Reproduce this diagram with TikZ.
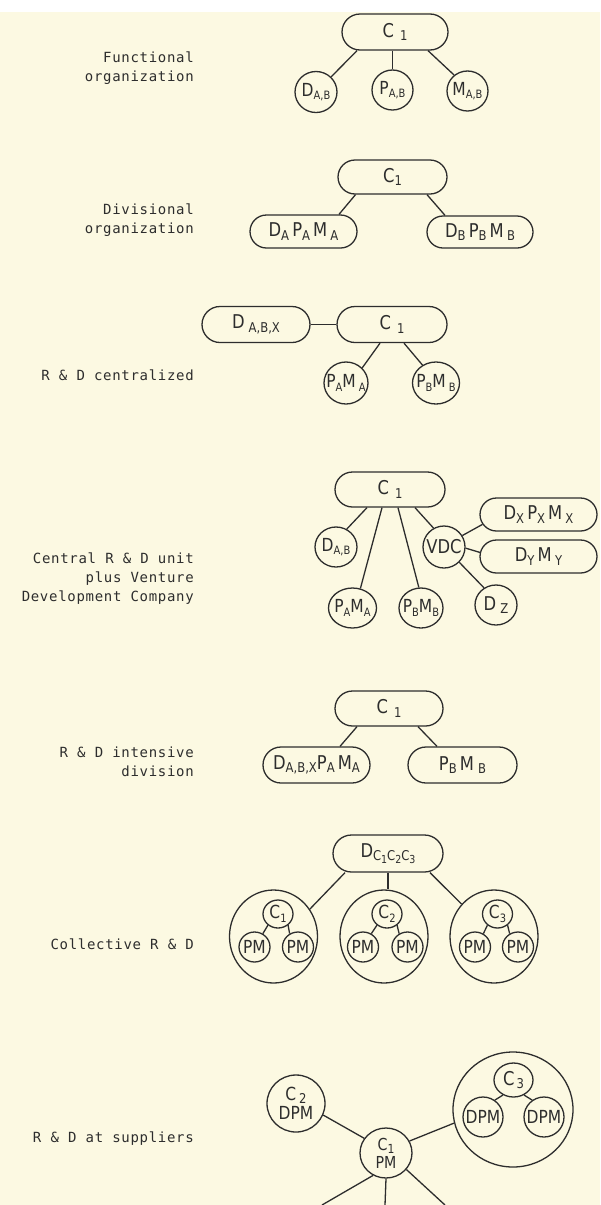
\documentclass[tikz,border=0pt]{standalone}
\usepackage{fontspec}
\usetikzlibrary{shapes.misc,shapes.geometric}
\newfontfamily\lblfont[LetterSpace=5]{DejaVu Sans Mono}
\newfontfamily\nodefont[FakeStretch=0.86]{DejaVu Sans}
\definecolor{paper}{RGB}{252,249,226}
\definecolor{ink}{RGB}{45,45,45}
% sizes of the indices, set by the node styles
\def\subsz{13.5}
\def\subsub{11}
% lowered index, and an index of an index
\newcommand\lo[1]{\raisebox{-3.5pt}{\fontsize{\subsz}{\subsz}\selectfont #1}}
\newcommand\llo[1]{\raisebox{-2.5pt}{\fontsize{\subsub}{\subsub}\selectfont #1}}
% text that does not widen its shape
\newcommand\nowide[1]{\makebox[0pt]{#1}}
\tikzset{
  base/.style={draw=ink, line width=1.3pt, inner sep=0pt, text=ink,
    font=\nodefont\fontsize{19}{21}\selectfont\def\subsz{13.5}},
  pill/.style={base, rounded rectangle},
  ring/.style={base, ellipse},
  small/.style={font=\nodefont\fontsize{18}{20}\selectfont\def\subsz{11.5}},
  link/.style={draw=ink, line width=1.3pt},
  caption/.style={anchor=east, align=right, text=ink, inner sep=0pt,
    font=\lblfont\fontsize{14}{19}\selectfont},
}
\begin{document}
\begin{tikzpicture}[x=1pt,y=-1pt]
\useasboundingbox (0,0) rectangle (600,1205);
\fill[white] (0,0) rectangle (600,1205);
\fill[paper] (0,12) rectangle (600,1205);

% ---------- captions ----------
\node[caption] (t1) at (194,68) {Functional\\organization};
\node[caption] (t2) at (194,220.5) {Divisional\\organization};
\node[caption] (t3) at (194,375) {R \& D centralized};
\node[caption] (t4) at (194,579) {Central R \& D unit\\plus Venture\\Development Company};
\node[caption] (t5) at (194,761.5) {R \& D intensive\\division};
\node[caption] (t6) at (194,944) {Collective R \& D};
\node[caption] (t7) at (194,1139) {R \& D at suppliers};

% ---------- functional organization ----------
\node[pill, minimum width=106pt, minimum height=36pt] (c1a) at (395,32) {\nowide{C\hspace{6pt}\lo{1}}};
\node[ring, small, minimum width=42pt, minimum height=41pt] (d1) at (316,92) {\nowide{D\lo{A,B}}};
\node[ring, small, minimum width=41pt, minimum height=40pt] (p1) at (392.5,90) {\nowide{P\lo{A,B}}};
\node[ring, small, minimum width=41pt, minimum height=40pt] (m1) at (467.5,91) {\nowide{M\lo{A,B}}};
\draw[link] ([xshift=-38pt]c1a.south) -- (d1.45);
\draw[link] (p1.north |- c1a.south) -- (p1.north);
\draw[link] ([xshift=33pt]c1a.south) -- (m1.130);

% ---------- divisional organization ----------
\node[pill, minimum width=109pt, minimum height=34pt] (c1b) at (392.5,177) {\nowide{C\lo{1}}};
\node[pill, minimum width=107pt, minimum height=33pt] (da) at (303.5,231.5) {\nowide{D\lo{A}\,P\lo{A}\,M\,\lo{A}}};
\node[pill, minimum width=106pt, minimum height=32pt] (db) at (480,232) {\nowide{D\lo{B}\,P\lo{B}\,M\,\lo{B}}};
\draw[link] ([xshift=-37pt]c1b.south) -- ([xshift=35.5pt]da.north);
\draw[link] ([xshift=34.5pt]c1b.south) -- ([xshift=-35pt]db.north);

% ---------- R&D centralized ----------
\node[pill, minimum width=108pt, minimum height=36pt] (dx3) at (256,324.5) {\nowide{D\hspace{4pt}\lo{A,B,X}}};
\node[pill, minimum width=110pt, minimum height=36pt] (c1c) at (392,324.5) {\nowide{C\hspace{6pt}\lo{1}}};
\node[ring, small, minimum width=44pt, minimum height=42pt] (pa3) at (346,383) {\nowide{P\lo{A}M\,\lo{A}}};
\node[ring, small, minimum width=47pt, minimum height=42pt] (pb3) at (436,383) {\nowide{P\lo{B}M\,\lo{B}}};
\draw[link] (dx3.east) -- (c1c.west);
\draw[link] ([xshift=-12pt]c1c.south) -- (pa3.43);
\draw[link] ([xshift=12pt]c1c.south) -- (pb3.127);

% ---------- central R&D unit plus VDC ----------
\node[pill, minimum width=110pt, minimum height=35pt] (c1d) at (390,489.5) {\nowide{C\hspace{6pt}\lo{1}}};
\node[ring, small, minimum width=42pt, minimum height=40pt] (dab4) at (336,547) {\nowide{D\lo{A,B}}};
\node[ring, minimum width=42pt, minimum height=42pt] (vdc) at (444,547) {\nowide{VDC}};
\node[ring, small, minimum width=48pt, minimum height=40pt] (pa4) at (352.5,608) {\nowide{P\lo{A}M\lo{A}}};
\node[ring, small, minimum width=44pt, minimum height=40pt] (pb4) at (421,608) {\nowide{P\lo{B}M\lo{B}}};
\node[ring, minimum width=42pt, minimum height=40pt] (dz) at (496,605) {\nowide{D\hspace{4pt}\lo{Z}}};
\node[pill, minimum width=117pt, minimum height=33pt] (dxb) at (538.5,514.5) {\nowide{D\lo{X}\,P\lo{X}\,M\,\lo{X}}};
\node[pill, minimum width=117pt, minimum height=33pt] (dyb) at (538.5,556.5) {\nowide{D\lo{Y}\,M\,\lo{Y}}};
\draw[link] ([xshift=-23pt]c1d.south) -- (dab4.59);
\draw[link] ([xshift=-8pt]c1d.south) -- (pa4.68);
\draw[link] ([xshift=8pt]c1d.south) -- (pb4.96);
\draw[link] ([xshift=25pt]c1d.south) -- (vdc.119);
\draw[link] (vdc.32) -- (dxb.190);
\draw[link] (vdc.357) -- (dyb.176);
\draw[link] (vdc.315) -- (dz.125);

% ---------- R&D intensive division ----------
\node[pill, minimum width=108pt, minimum height=35pt] (c1e) at (389,708.5) {\nowide{C\hspace{6pt}\lo{1}}};
\node[pill, minimum width=107pt, minimum height=36pt] (le) at (316.5,765) {\nowide{D\lo{A,B,X}P\lo{A}\,M\lo{A}}};
\node[pill, minimum width=109pt, minimum height=36pt] (re) at (462.5,765) {\nowide{P\lo{B}\,M\hspace{4pt}\lo{B}}};
\draw[link] ([xshift=-32pt]c1e.south) -- ([xshift=23.5pt]le.north);
\draw[link] ([xshift=29pt]c1e.south) -- ([xshift=-25.5pt]re.north);

% ---------- collective R&D ----------
\node[pill, minimum width=110pt, minimum height=37pt] (dc) at (388,853.5) {\nowide{D\lo{C\llo{1}C\llo{2}C\llo{3}}}};
\foreach \k/\cx/\ix/\ax/\bx in {1/273.5/278/254.5/298, 2/384/387/363/407.5, 3/494/497.5/475/518}{
  \node[ring, minimum width=88pt, minimum height=93pt] (big\k) at (\cx,936.5) {};
  \node[ring, small, minimum width=30pt, minimum height=28pt] (ic\k) at (\ix,914) {\nowide{C\lo{\k}}};
  \node[ring, small, minimum width=31pt, minimum height=30pt] (pma\k) at (\ax,947) {\nowide{PM}};
  \node[ring, small, minimum width=31pt, minimum height=30pt] (pmb\k) at (\bx,947) {\nowide{PM}};
  \draw[link] (ic\k.228) -- (pma\k.58);
  \draw[link] (ic\k.312) -- (pmb\k.122);
}
\draw[link] ([xshift=-43pt]dc.south) -- (big1.37);
\draw[link] (dc.south) -- (dc.south |- big2.north);
\draw[link] ([xshift=42pt]dc.south) -- (big3.135);

% ---------- R&D at suppliers ----------
\node[ring, align=center, font=\nodefont\fontsize{18}{19.5}\selectfont,
      minimum width=58pt, minimum height=57pt] (c2) at (296,1103.5) {C\hspace{3pt}\lo{2}\\DPM};
\node[ring, align=center, font=\nodefont\fontsize{16.5}{18}\selectfont\def\subsz{12.5},
      minimum width=52pt, minimum height=50pt] (c1g) at (386,1153) {C\lo{1}\\PM};
\node[ring, minimum width=120pt, minimum height=115pt] (big7) at (513,1109.5) {};
\node[ring, minimum width=39pt, minimum height=34pt] (c3) at (513.5,1080) {\nowide{C\hspace{2pt}\lo{3}}};
\node[ring, small, minimum width=40pt, minimum height=40pt] (dpmL) at (483,1117) {\nowide{DPM}};
\node[ring, small, minimum width=40pt, minimum height=40pt] (dpmR) at (544,1117) {\nowide{DPM}};
\coordinate (outL) at (322,1205);
\coordinate (outM) at (385,1205);
\coordinate (outR) at (445,1205);
\draw[link] (c2.337) -- (c1g.146);
\draw[link] (c1g.27) -- (big7.193);
\draw[link] (c3.235) -- (dpmL.55);
\draw[link] (c3.305) -- (dpmR.125);
\draw[link] (c1g.240) -- (outL);
\draw[link] (c1g.south) -- (outM);
\draw[link] (c1g.321) -- (outR);
\end{tikzpicture}
\end{document}
